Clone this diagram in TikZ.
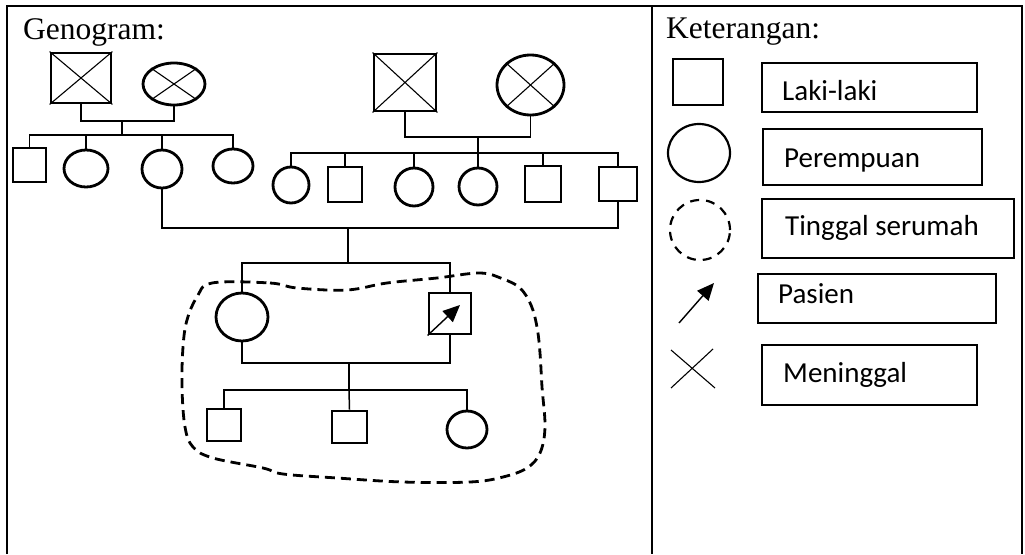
\documentclass[tikz,border=0pt]{standalone}
\usepackage{fontspec}
\setmainfont{Liberation Serif}
\newfontfamily\legendfont{Carlito}
\usetikzlibrary{shapes.geometric,arrows.meta}

\tikzset{
  male/.style={draw, rectangle, line width=2.8pt, inner sep=0pt},
  female/.style={draw, ellipse, line width=2.8pt, inner sep=0pt},
  link/.style={line width=1.5pt},
  deadmark/.style={line width=1.1pt},
  keybox/.style={draw, rectangle, line width=1.6pt, inner sep=0pt, anchor=north west},
  keytext/.style={anchor=base west, inner sep=0pt, font=\legendfont\fontsize{29}{32}\selectfont},
  heading/.style={anchor=base west, inner sep=0pt, font=\fontsize{31.5}{36}\selectfont},
  frame/.style={line width=2.2pt},
  home/.style={line width=2.8pt, dash pattern=on 10pt off 6pt},
  probandarrow/.style={line width=1.4pt, -{Triangle[length=17pt,width=15pt]}}
}

\begin{document}
\begin{tikzpicture}[x=1pt,y=-1pt]
\useasboundingbox (0,0) rectangle (1025,554);

% table frame
\draw[frame] (7,554) -- (7,6) -- (1022,6) -- (1022,554);
\draw[frame] (652,6) -- (652,554);

% headings
\node[heading] (hgeno) at (23,39) {Genogram:};
\node[heading] (hket) at (666,38) {Keterangan:};

% ---------- paternal grandparents ----------
\node[male, minimum width=60pt, minimum height=50pt] (gfa) at (81,78) {};
\node[female, minimum width=62pt, minimum height=42pt] (gma) at (174,84) {};
\draw[deadmark] (gfa.north west) -- (gfa.south east) (gfa.north east) -- (gfa.south west);
\draw[deadmark] (gma.north west) -- (gma.south east) (gma.north east) -- (gma.south west);

% paternal siblings
\node[male, minimum width=33pt, minimum height=34pt] (pa1) at (29.5,165) {};
\node[female, minimum width=44pt, minimum height=37pt] (pa2) at (86,168.5) {};
\node[female, minimum width=40pt, minimum height=38pt] (pa3) at (162,169) {};
\node[female, minimum width=40pt, minimum height=34pt] (pa4) at (233,166) {};

\coordinate (ma) at (122,121);
\coordinate (sa) at (122,135);
\draw[link] (gfa.south) |- (ma) -| (gma.south);
\draw[link] (ma) -- (sa);
\draw[link] (pa1.north) |- (sa) -| (pa4.north);
\draw[link] (pa2.north) -- (pa2.north |- sa);
\draw[link] (pa3.north) -- (pa3.north |- sa);

% ---------- maternal grandparents ----------
\node[male, minimum width=62pt, minimum height=57pt] (gfb) at (405,82.5) {};
\node[female, minimum width=67pt, minimum height=60pt] (gmb) at (530.5,85) {};
\draw[deadmark] (gfb.north west) -- (gfb.south east) (gfb.north east) -- (gfb.south west);
\draw[deadmark] (gmb.north west) -- (gmb.south east) (gmb.north east) -- (gmb.south west);

% maternal siblings
\node[female, minimum width=36pt, minimum height=36pt] (pb1) at (291,185) {};
\node[male, minimum width=34pt, minimum height=35pt] (pb2) at (345,184.5) {};
\node[female, minimum width=38pt, minimum height=38pt] (pb3) at (414,187) {};
\node[female, minimum width=38pt, minimum height=37pt] (pb4) at (478,186.5) {};
\node[male, minimum width=36pt, minimum height=36pt] (pb5) at (543,184) {};
\node[male, minimum width=38pt, minimum height=34pt] (pb6) at (618,184) {};

\coordinate (mb) at (478,137);
\coordinate (sb) at (478,153);
\draw[link] (gfb.south) |- (mb) -| (gmb.south);
\draw[link] (mb) -- (sb);
\draw[link] (pb1.north) |- (sb) -| (pb6.north);
\draw[link] (pb2.north) -- (pb2.north |- sb);
\draw[link] (pb3.north) -- (pb3.north |- sb);
\draw[link] (pb4.north) -- (sb);
\draw[link] (pb5.north) -- (pb5.north |- sb);

% ---------- parents' marriage ----------
\coordinate (mp) at (348,228);
\coordinate (sp) at (348,263);
\draw[link] (pa3.south) |- (mp) -| (pb6.south);
\draw[link] (mp) -- (sp);

% ---------- patient and spouse ----------
\node[female, minimum width=52pt, minimum height=48pt] (wife) at (242,317) {};
\node[male, minimum width=42pt, minimum height=41pt] (pat) at (450,313.5) {};
\coordinate (ptip) at (460,305);
\draw[probandarrow] (pat.south west) -- (ptip);

\draw[link] (wife.north) |- (sp) -| (pat.north);

\coordinate (mc) at (349,363);
\coordinate (sc) at (349,390);
\draw[link] (wife.south) |- (mc) -| (pat.south);
\draw[link] (mc) -- (sc);

% children
\node[male, minimum width=34pt, minimum height=32pt] (ch1) at (224,425) {};
\node[male, minimum width=35pt, minimum height=32pt] (ch2) at (349.5,427) {};
\node[female, minimum width=40pt, minimum height=37pt] (ch3) at (467,429.5) {};
\draw[link] (ch1.north) |- (sc) -| (ch3.north);
\draw[link] (ch2.north) -- (sc);

% household boundary
\draw[home] plot[smooth cycle, tension=0.6] coordinates {
  (212,283) (270,283) (297,288) (347,290) (387,283) (437,278) (480,273)
  (503,279) (520,288) (531,305) (537,327) (540,353) (542,387) (545,427)
  (540,453) (527,468) (503,477) (470,482) (403,482) (337,478) (283,474)
  (263,468) (213,458) (193,447) (185,427) (182,387) (183,347) (187,320)
  (197,297)};

% ---------- legend ----------
\node[male, line width=2.2pt, minimum width=50pt, minimum height=46pt] (kmale) at (698,82) {};
\node[keybox, minimum width=215pt, minimum height=49pt] (bmale) at (761,62) {};
\node[keytext] (tmale) at (782,100) {Laki-laki};

\node[female, line width=2.2pt, minimum width=62pt, minimum height=58pt] (kfem) at (699,153) {};
\node[keybox, minimum width=219pt, minimum height=56pt] (bfem) at (762,128) {};
\node[keytext] (tfem) at (784,167) {Perempuan};

\node[draw, ellipse, line width=2.2pt, dash pattern=on 9pt off 7pt, inner sep=0pt,
      minimum width=60pt, minimum height=60pt] (khome) at (700,230) {};
\node[keybox, minimum width=252pt, minimum height=59pt] (bhome) at (761,198) {};
\node[keytext] (thome) at (785,235) {Tinggal serumah};

\coordinate (kpa) at (679,323);
\coordinate (kpb) at (714,283);
\draw[probandarrow] (kpa) -- (kpb);
\node[keybox, minimum width=238pt, minimum height=49pt] (bpat) at (757,273) {};
\node[keytext] (tpat) at (778,303) {Pasien};

\coordinate (kxa) at (671,350);
\coordinate (kxb) at (715,388);
\coordinate (kxc) at (671,388);
\coordinate (kxd) at (713,349);
\draw[deadmark] (kxa) -- (kxb);
\draw[deadmark] (kxc) -- (kxd);
\node[keybox, minimum width=215pt, minimum height=60pt] (bdead) at (761,344) {};
\node[keytext] (tdead) at (783,382) {Meninggal};

\end{tikzpicture}
\end{document}
